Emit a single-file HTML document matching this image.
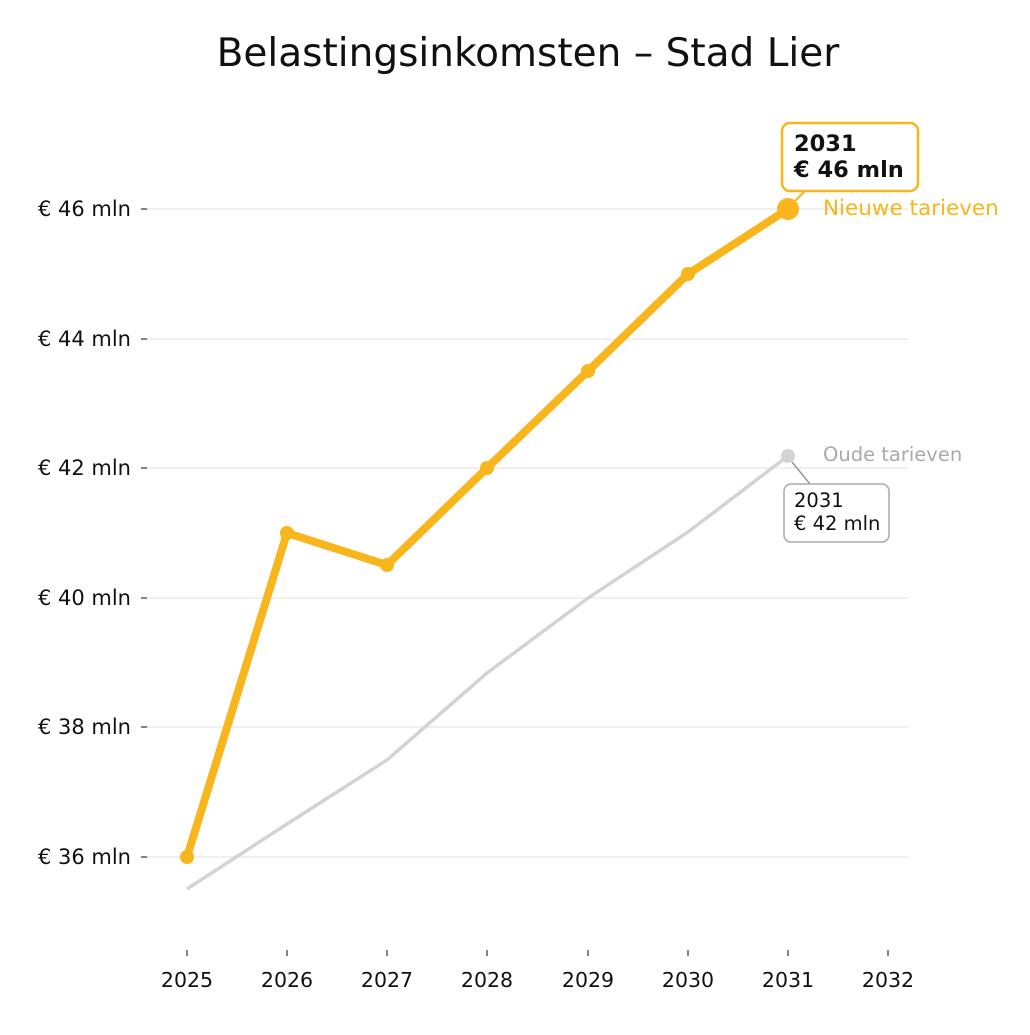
<!DOCTYPE html>
<html><head><style>body{margin:0;background:#fff}</style></head><body>
<svg width="1030" height="1030" xmlns="http://www.w3.org/2000/svg" font-family="DejaVu Sans, Liberation Sans, sans-serif">
<rect width="1030" height="1030" fill="#fff"/>
<text x="528" y="66" font-size="39" text-anchor="middle" fill="#111">Belastingsinkomsten – Stad Lier</text>
<g stroke="#ebebeb" stroke-width="1.5">
<line x1="147" x2="908" y1="209" y2="209"/><line x1="147" x2="908" y1="339" y2="339"/>
<line x1="147" x2="908" y1="468" y2="468"/><line x1="147" x2="908" y1="598" y2="598"/>
<line x1="147" x2="908" y1="727" y2="727"/><line x1="147" x2="908" y1="857" y2="857"/>
</g>
<g stroke="#333" stroke-width="1.2">
<line x1="141" x2="147" y1="209" y2="209"/><line x1="141" x2="147" y1="339" y2="339"/>
<line x1="141" x2="147" y1="468" y2="468"/><line x1="141" x2="147" y1="598" y2="598"/>
<line x1="141" x2="147" y1="727" y2="727"/><line x1="141" x2="147" y1="857" y2="857"/>
<line x1="187" x2="187" y1="950" y2="956"/><line x1="287" x2="287" y1="950" y2="956"/>
<line x1="387" x2="387" y1="950" y2="956"/><line x1="487" x2="487" y1="950" y2="956"/>
<line x1="588" x2="588" y1="950" y2="956"/><line x1="688" x2="688" y1="950" y2="956"/>
<line x1="788" x2="788" y1="950" y2="956"/><line x1="888" x2="888" y1="950" y2="956"/>
</g>
<g font-size="21" fill="#111" text-anchor="end">
<text x="131" y="216">€ 46 mln</text><text x="131" y="346">€ 44 mln</text>
<text x="131" y="475">€ 42 mln</text><text x="131" y="605">€ 40 mln</text>
<text x="131" y="734">€ 38 mln</text><text x="131" y="864">€ 36 mln</text>
</g>
<g font-size="20.5" fill="#111" text-anchor="middle">
<text x="187" y="987">2025</text><text x="287" y="987">2026</text><text x="387" y="987">2027</text>
<text x="487" y="987">2028</text><text x="588" y="987">2029</text><text x="688" y="987">2030</text>
<text x="788" y="987">2031</text><text x="888" y="987">2032</text>
</g>
<polyline points="187,889 287,824 387,760 487,673 588,598 688,532 788,456" fill="none" stroke="#d3d3d3" stroke-width="3.5"/>
<circle cx="788" cy="456" r="7" fill="#d3d3d3"/>
<polyline points="187,857 287,533 387,565 487,468 588,371 688,274 788,209" fill="none" stroke="#f9b51c" stroke-width="8" stroke-linejoin="round"/>
<g fill="#f9b51c">
<circle cx="187" cy="857" r="7"/><circle cx="287" cy="533" r="7"/><circle cx="387" cy="565" r="7"/>
<circle cx="487" cy="468" r="7"/><circle cx="588" cy="371" r="7"/><circle cx="688" cy="274" r="7"/>
<circle cx="788" cy="209" r="11"/>
</g>
<line x1="795" y1="201" x2="805" y2="191" stroke="#f9b51c" stroke-width="2"/>
<rect x="782" y="123" width="136" height="68" rx="8" fill="#fff" stroke="#f9b51c" stroke-width="2.5"/>
<text x="794" y="151" font-size="22.5" font-weight="bold" fill="#111">2031</text>
<text x="794" y="177" font-size="22.5" font-weight="bold" fill="#111">€ 46 mln</text>
<text x="823" y="215" font-size="21.5" fill="#f9b51c">Nieuwe tarieven</text>
<line x1="792" y1="462" x2="810" y2="484" stroke="#999" stroke-width="1.5"/>
<rect x="784" y="484" width="105" height="58" rx="7" fill="#fff" stroke="#aaa" stroke-width="1.5"/>
<text x="794" y="507" font-size="19.5" fill="#111">2031</text>
<text x="794" y="530" font-size="19.5" fill="#111">€ 42 mln</text>
<text x="823" y="461" font-size="19.5" fill="#aaa">Oude tarieven</text>
</svg>
</body></html>
